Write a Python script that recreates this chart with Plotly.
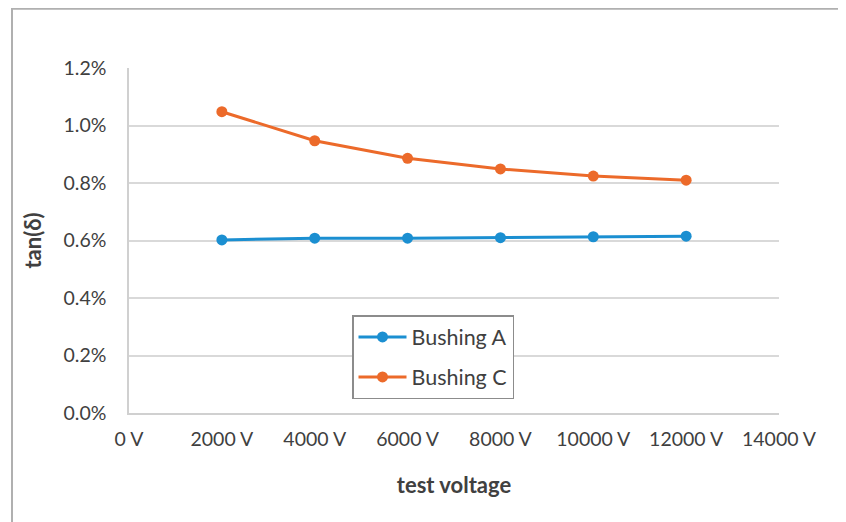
import plotly.graph_objects as go

voltages = [2000, 4000, 6000, 8000, 10000, 12000]
bushing_a = [0.00602, 0.00608, 0.00608, 0.00610, 0.00613, 0.00615]
bushing_c = [0.01048, 0.00947, 0.00886, 0.00849, 0.00824, 0.00810]
x_ticks = [0, 2000, 4000, 6000, 8000, 10000, 12000, 14000]
y_ticks = [0, 0.002, 0.004, 0.006, 0.008, 0.010, 0.012]

FONT = "Lato, Open Sans, sans-serif"
TXT = "#404040"

fig = go.Figure()
fig.add_trace(go.Scatter(x=voltages, y=bushing_a, name="Bushing A", mode="lines+markers",
                         legendgroup="a",
                         line=dict(color="#1B8FD1", width=3), marker=dict(size=11, color="#1B8FD1")))
fig.add_trace(go.Scatter(x=voltages, y=bushing_c, name="Bushing C", mode="lines+markers",
                         legendgroup="c",
                         line=dict(color="#EC6A2A", width=3), marker=dict(size=11, color="#EC6A2A")))

# page body has an 8px margin, so work in figure coordinates = screen - 8
W, H = 838, 514
L, T = 121, 60
R = W - 771
B = H - 405
pw, ph = W - L - R, H - T - B

fig.update_layout(
    width=W, height=H,
    margin=dict(l=L, r=R, t=T, b=B),
    paper_bgcolor="white", plot_bgcolor="white",
    font=dict(family=FONT, size=19.5, color=TXT),
    showlegend=True,
    legend=dict(x=(344 - L) / pw, y=(405 - 307) / ph, xanchor="left", yanchor="top",
                bordercolor="#8c8c8c", borderwidth=1.5, bgcolor="white",
                font=dict(size=21.5, color=TXT), tracegroupgap=9, itemwidth=48),
    xaxis=dict(range=[0, 14000], tickvals=x_ticks, ticktext=[f"{v} V" for v in x_ticks],
               showgrid=False, showline=True, linecolor="#d0d0d0", linewidth=1.5,
               ticks="", zeroline=False, ticklabelstandoff=8,
               title=dict(text="<b>test voltage</b>", font=dict(size=22, color=TXT), standoff=28)),
    yaxis=dict(range=[0, 0.012], tickvals=y_ticks, tickformat=".1%",
               showgrid=True, gridcolor="#d9d9d9", gridwidth=1.5,
               showline=True, linecolor="#d0d0d0", linewidth=1.5,
               ticks="", zeroline=False, ticklabelstandoff=17,
               title=dict(text="<b>tan(δ)</b>", font=dict(size=22, color=TXT), standoff=16)),
    shapes=[dict(type="rect", xref="paper", yref="paper",
                 x0=(4 - L) / pw, x1=(832 - L) / pw,
                 y0=-(B + 20) / ph, y1=(H - B) / ph - 0.002,
                 line=dict(color="#b0b0b0", width=2), fillcolor="rgba(0,0,0,0)", layer="below")],
)

fig.write_html("out.html")
